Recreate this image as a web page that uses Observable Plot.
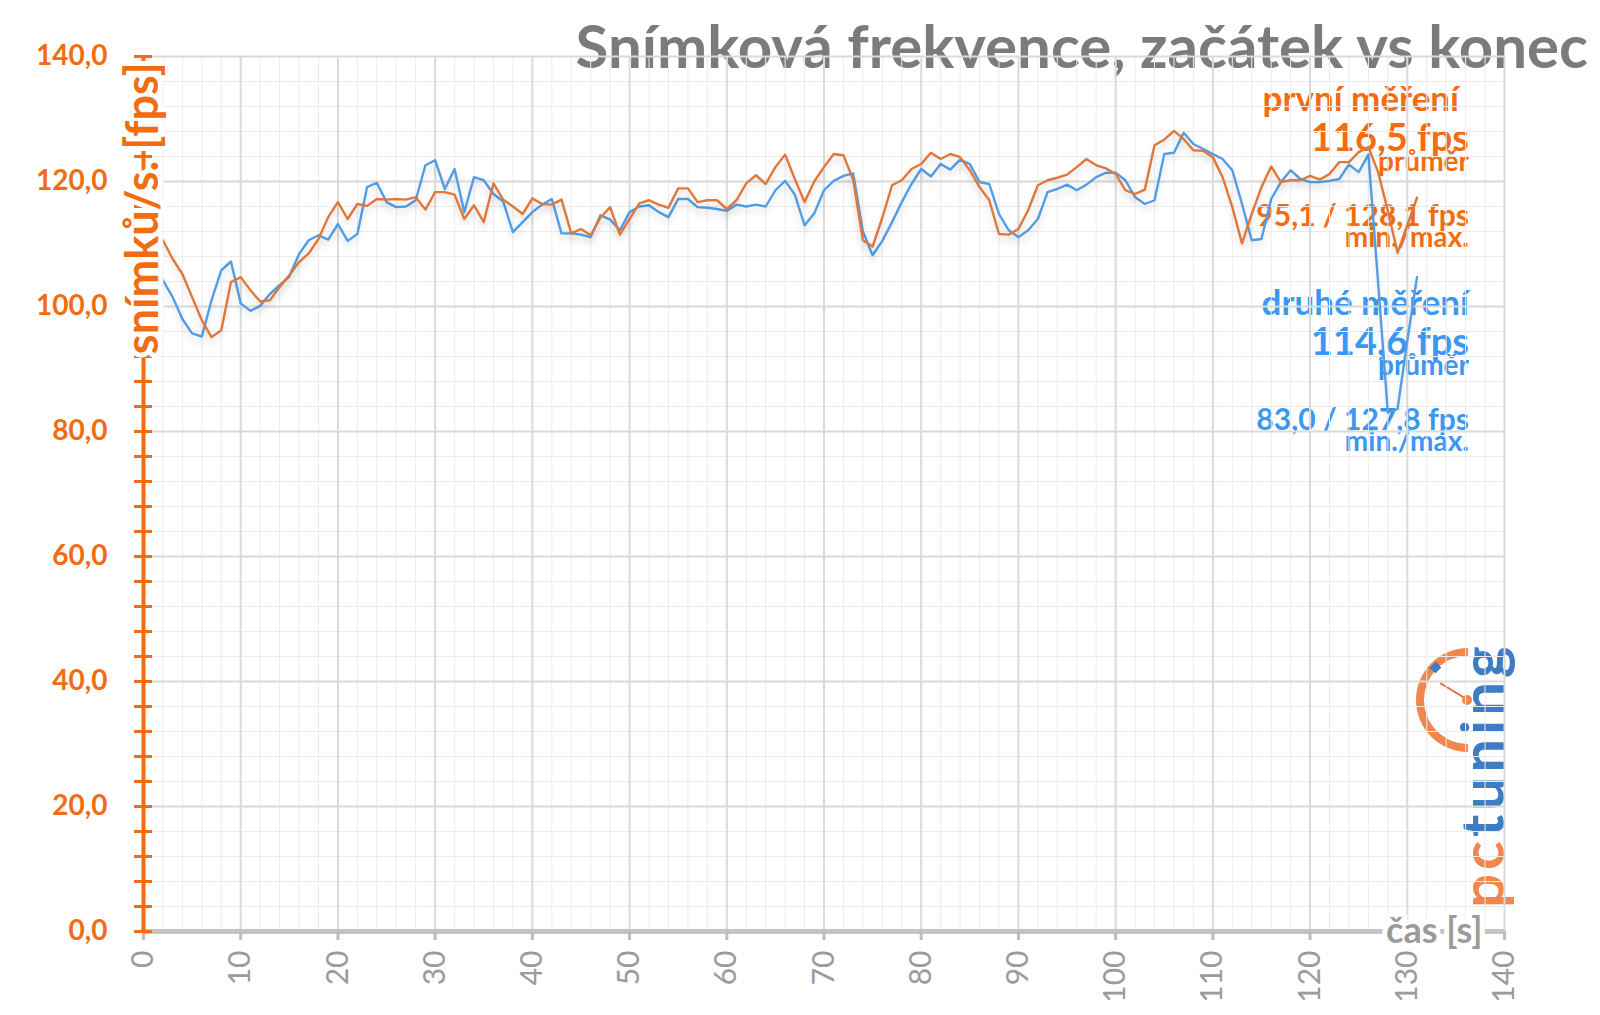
<!DOCTYPE html>
<html><head><meta charset="utf-8">
<script src="https://cdn.jsdelivr.net/npm/d3@7"></script>
<script src="https://cdn.jsdelivr.net/npm/@observablehq/plot@0.6"></script>
<style>
body{margin:0;background:#fff;}
#wrap{position:relative;width:1600px;height:1015px;overflow:hidden;}
#deco{position:absolute;left:0;top:0;}
#chart{position:absolute;left:0;top:0;}
#chart g[aria-label="line"]{filter:drop-shadow(0px 5px 3px rgba(0,0,0,0.13));}
</style></head><body>
<div id="wrap"><svg id="deco" width="1600" height="1015"></svg><div id="chart"></div></div>
<script>
// ---- data (fps per second of the run) ----
const firstRun = [
111.0,110.6,107.6,105.2,101.5,97.8,95.1,96.2,103.9,104.7,
102.6,100.8,101.0,103.1,105.0,107.1,108.5,110.8,114.3,116.7,
114.0,116.4,116.1,117.2,117.1,117.2,117.1,117.5,115.5,118.3,
118.3,117.9,114.0,116.2,113.5,119.7,117.1,116.0,114.8,117.3,
116.4,116.3,117.1,111.7,112.4,111.4,114.2,115.9,111.5,114.0,
116.5,117.0,116.3,115.8,118.9,118.9,116.7,117.0,117.0,115.6,
117.0,119.7,121.0,119.6,122.3,124.3,120.4,116.7,120.0,122.3,
124.4,124.2,120.3,110.6,109.6,114.2,119.4,120.2,122.0,122.8,
124.6,123.6,124.4,123.9,121.8,119.1,117.0,111.6,111.5,112.4,
115.4,119.4,120.2,120.6,121.1,122.3,123.6,122.6,122.1,121.2,
118.6,118.0,118.7,125.8,126.7,128.1,126.8,125.0,124.9,123.9,
120.7,115.9,110.1,114.8,119.1,122.4,119.9,120.2,120.2,120.9,
120.3,121.2,123.1,123.1,124.7,125.5,121.5,115.3,108.6,113.0,
117.4];
const secondRun = [
106.5,104.2,101.5,98.0,95.7,95.2,101.0,105.8,107.2,100.5,
99.3,100.1,102.0,103.4,104.8,108.4,110.6,111.4,110.7,113.2,
110.5,111.6,119.1,119.8,116.7,115.9,116.0,117.0,122.6,123.4,
118.8,122.0,115.1,120.7,120.2,118.0,116.8,111.9,113.5,115.1,
116.3,117.2,111.7,111.7,111.5,111.1,114.6,113.9,112.2,115.1,
116.0,116.2,115.1,114.3,117.2,117.2,115.9,115.8,115.6,115.3,
116.3,116.0,116.3,116.0,118.6,120.1,117.9,113.0,114.9,118.6,
120.1,120.9,121.3,112.0,108.2,110.5,113.5,116.7,119.6,122.0,
120.8,122.8,121.9,123.5,122.8,119.9,119.6,114.8,112.2,111.1,
112.2,114.0,118.3,118.8,119.5,118.6,119.5,120.7,121.4,121.4,
120.2,117.5,116.4,117.0,124.4,124.6,127.8,126.0,125.2,124.4,
123.6,121.8,116.4,110.6,110.8,117.2,119.9,121.8,120.4,119.9,
119.9,120.1,120.4,122.7,121.5,124.3,103.8,83.0,83.6,94.5,
104.7];
const runNames = ["první měření", "druhé měření"];
const xTicks = [0,10,20,30,40,50,60,70,80,90,100,110,120,130,140];
const yTicks = [0,20,40,60,80,100,120,140];
const xMinor = d3.range(0, 141, 2);
const yMinor = d3.range(0, 141, 4);
const title = "Snímková frekvence, začátek vs konec";
const yTitle = "snímků/s. [fps]";
const xTitle = "čas [s]";
const legendFirst = ["první měření", "116,5 fps", "průměr", "95,1 / 128,1 fps", "min./max."];
const legendSecond = ["druhé měření", "114,6 fps", "průměr", "83,0 / 127,8 fps", "min./max."];
const logoParts = ["pc", "tuning"];

// ---- styling ----
const axisOrange = "#F26C12";
const lineOrange = "#E2773A";
const lineBlue = "#529DE6";
const textBlue = "#3B97EF";
const gray = "#9b9b9b";
const FONT = "Lato, 'Open Sans', sans-serif";

const rows = [
  ...firstRun.map((v, i) => ({t: i + 1, fps: v, run: runNames[0]})),
  ...secondRun.map((v, i) => ({t: i + 1, fps: v, run: runNames[1]}))
];

const plot = Plot.plot({
  width: 1600, height: 1015,
  marginLeft: 143, marginRight: 96, marginTop: 56, marginBottom: 84,
  style: {background: "transparent", fontFamily: FONT, overflow: "visible"},
  x: {domain: [0, 140]},
  y: {domain: [0, 140]},
  marks: [
    Plot.gridX(xMinor, {stroke: "#ebebeb", strokeOpacity: 1, strokeWidth: 1}),
    Plot.gridY(yMinor, {stroke: "#ebebeb", strokeOpacity: 1, strokeWidth: 1}),
    Plot.gridX(xTicks, {stroke: "#dadada", strokeOpacity: 1, strokeWidth: 2}),
    Plot.gridY(yTicks, {stroke: "#dadada", strokeOpacity: 1, strokeWidth: 2}),
    Plot.line(rows.filter(d => d.run === runNames[1]), {x: "t", y: "fps", stroke: lineBlue, strokeWidth: 2.4}),
    Plot.line(rows.filter(d => d.run === runNames[0]), {x: "t", y: "fps", stroke: lineOrange, strokeWidth: 2.4}),
    Plot.ruleY([0], {stroke: "#c4c4c4", strokeWidth: 5}),
    Plot.axisX({ticks: xTicks, tickSize: 9, tickPadding: 10, tickRotate: -90, stroke: "#bdbdbd", strokeWidth: 3,
      fill: gray, fontSize: 30, label: null, tickFormat: d => String(d)}),
    Plot.ruleX([0], {stroke: axisOrange, strokeWidth: 4}),
    Plot.axisY({ticks: yMinor, tickSize: 18, dx: 9, stroke: axisOrange, strokeWidth: 3, tickFormat: () => "", label: null}),
    Plot.axisY({ticks: yTicks, tickSize: 0, tickPadding: 36, fill: axisOrange, fontSize: 28, fontWeight: "bold",
      tickFormat: d => d.toFixed(1).replace(".", ","), label: null}),
    Plot.text([yTitle], {frameAnchor: "top-left", rotate: -90, textAnchor: "end", lineAnchor: "middle", dy: 6,
      fill: axisOrange, fontSize: 45, fontWeight: "bold", stroke: "white", strokeWidth: 10}),
    Plot.text([xTitle], {frameAnchor: "bottom-right", textAnchor: "end", lineAnchor: "middle", dx: -22,
      fill: gray, fontSize: 36, fontWeight: "bold", stroke: "white", strokeWidth: 10})
  ]
});
document.getElementById("chart").appendChild(plot);

// ---- title, legend and logo (behind the chart) ----
const deco = d3.select("#deco").style("font-family", FONT).style("font-weight", "bold");
deco.append("text").text(title).attr("x", 1588).attr("y", 68).attr("text-anchor", "end")
  .attr("fill", "#7b7b7b").attr("font-size", 60);

const legendX = 1469;
const legendSizes = [35, 38, 28, 30, 28];
const legendOffsets = [0, 40, 60, 115, 136];
function legendBlock(lines, color, y0, firstShift) {
  lines.forEach((s, i) => {
    deco.append("text").text(s).attr("x", i === 0 ? legendX - firstShift : legendX).attr("y", y0 + legendOffsets[i])
      .attr("text-anchor", "end").attr("fill", color).attr("font-size", legendSizes[i]);
  });
}
legendBlock(legendFirst, axisOrange, 111, 10);
legendBlock(legendSecond, textBlue, 315, 0);

// logo
const logo = deco.append("g").attr("font-weight", "bold");
logo.append("path")
  .attr("d", d3.arc()({innerRadius: 44, outerRadius: 52, startAngle: Math.PI, endAngle: 2 * Math.PI}))
  .attr("transform", "translate(1468,700)").attr("fill", "#F2874E");
logo.append("path")
  .attr("d", d3.arc()({innerRadius: 42, outerRadius: 50, startAngle: 1.72 * Math.PI, endAngle: 1.78 * Math.PI}))
  .attr("transform", "translate(1468,700)").attr("fill", "#3E7CC4");
logo.append("line").attr("x1", 1468).attr("y1", 700).attr("x2", 1440).attr("y2", 683)
  .attr("stroke", "#E8643A").attr("stroke-width", 2);
logo.append("circle").attr("cx", 1467).attr("cy", 700).attr("r", 5).attr("fill", "#F2874E");
const lt = logo.append("text").attr("transform", "translate(1504,908) rotate(-90)")
  .attr("font-size", 60).attr("letter-spacing", 4);
lt.append("tspan").text(logoParts[0]).attr("fill", "#F2874E");
lt.append("tspan").text(logoParts[1]).attr("fill", "#3E7CC4");
</script>
</body></html>
